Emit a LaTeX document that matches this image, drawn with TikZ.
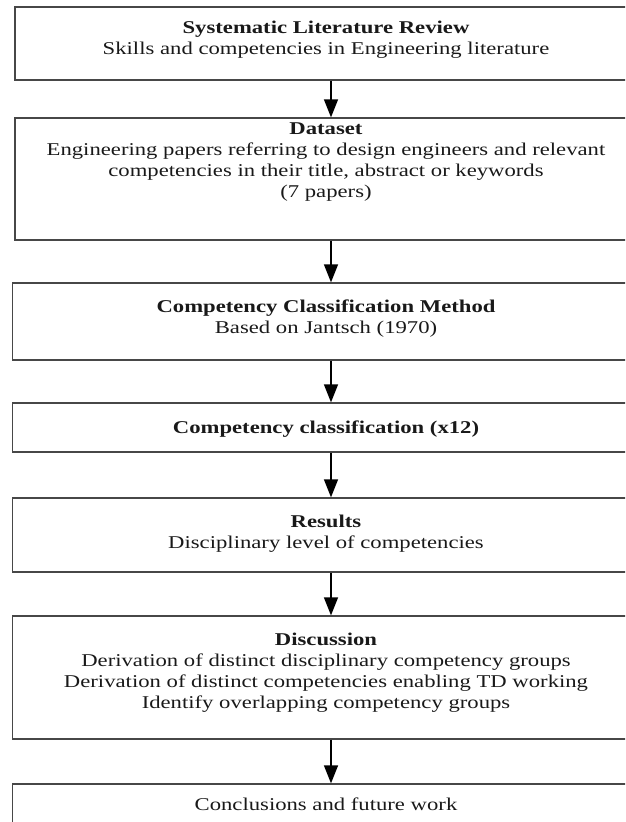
\documentclass[tikz,border=0pt]{standalone}
\usepackage{fontspec}
\setmainfont[FakeStretch=1.26]{Liberation Serif}
\usetikzlibrary{arrows.meta}
\begin{document}
\begin{tikzpicture}[x=1pt,y=-1pt,
  box/.style={draw=black!72, line width=1.3pt, rectangle, inner sep=0pt, minimum width=627pt},
  txt/.style={align=center, inner sep=0pt, font=\fontsize{18pt}{21pt}\selectfont, text=black!90},
  arr/.style={line width=1.5pt, draw=black, -{Triangle[width=14pt,length=18pt]}}]
\useasboundingbox (0,0) rectangle (625,822);
\clip (0,0) rectangle (625,822);
\coordinate (ax) at (331,0);
\node[box, minimum height=73pt, minimum width=625pt] (b1) at (327.5,43.5) {};
\node[box, minimum height=122pt, minimum width=625pt] (b2) at (327.5,179) {};
\node[box, minimum height=77pt] (b3) at (326.3,321.5) {};
\node[box, minimum height=49pt] (b4) at (326.3,427.5) {};
\node[box, minimum height=74pt] (b5) at (326.3,535) {};
\node[box, minimum height=123pt] (b6) at (326.3,677.5) {};
\node[box, minimum height=60pt] (b7) at (326.3,814) {};
\node[txt] (t1) at (326,40) {\textbf{Systematic Literature Review}\\Skills and competencies in Engineering literature};
\node[txt] (t2) at (326,162) {\textbf{Dataset}\\Engineering papers referring to design engineers and relevant\\competencies in their title, abstract or keywords\\(7 papers)};
\node[txt] (t3) at (326,318.5) {\textbf{Competency Classification Method}\\Based on Jantsch (1970)};
\node[txt] (t4) at (326,429) {\textbf{Competency classification (x12)}};
\node[txt] (t5) at (326,534) {\textbf{Results}\\Disciplinary level of competencies};
\node[txt] (t6) at (326,673) {\textbf{Discussion}\\Derivation of distinct disciplinary competency groups\\Derivation of distinct competencies enabling TD working\\Identify overlapping competency groups};
\node[txt] (t7) at (326,804) {Conclusions and future work};
\draw[arr] (b1.south -| ax) -- (b2.north -| ax);
\draw[arr] (b2.south -| ax) -- (b3.north -| ax);
\draw[arr] (b3.south -| ax) -- (b4.north -| ax);
\draw[arr] (b4.south -| ax) -- (b5.north -| ax);
\draw[arr] (b5.south -| ax) -- (b6.north -| ax);
\draw[arr] (b6.south -| ax) -- (b7.north -| ax);
\end{tikzpicture}
\end{document}
